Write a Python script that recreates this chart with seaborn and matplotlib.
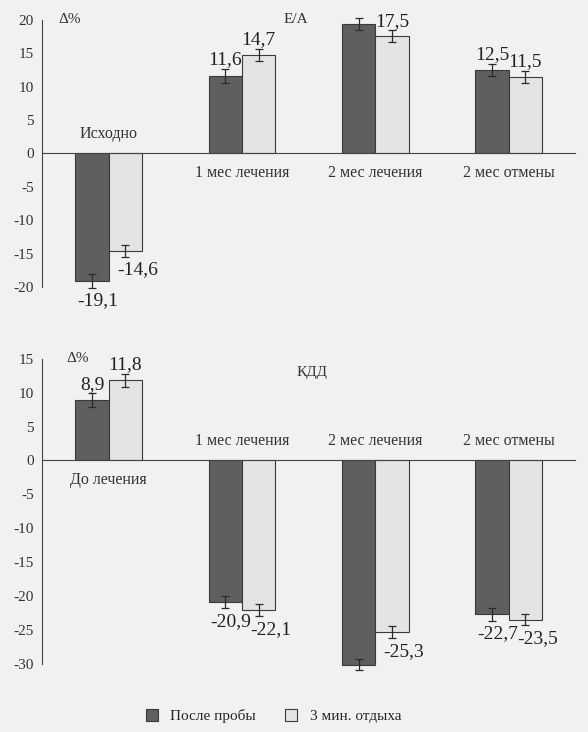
import numpy as np
import pandas as pd
import matplotlib
matplotlib.use('Agg')
import matplotlib.pyplot as plt
import seaborn as sns

# data
ea_cats = ['Исходно', '1 мес лечения', '2 мес лечения', '2 мес отмены']
ea_after = [-19.1, 11.6, 19.4, 12.5]
ea_rest = [-14.6, 14.7, 17.5, 11.5]
ea_err_after = [1.0, 1.0, 0.9, 0.9]
ea_err_rest = [0.9, 0.9, 0.9, 0.9]
ea_lab_after = ['-19,1', '11,6', None, '12,5']
ea_lab_rest = ['-14,6', '14,7', '17,5', '11,5']

kdd_cats = ['До лечения', '1 мес лечения', '2 мес лечения', '2 мес отмены']
kdd_after = [8.9, -20.9, -30.1, -22.7]
kdd_rest = [11.8, -22.1, -25.3, -23.5]
kdd_err_after = [1.0, 0.9, 0.8, 0.9]
kdd_err_rest = [1.0, 0.9, 0.9, 0.8]
kdd_lab_after = ['8,9', '-20,9', None, '-22,7']
kdd_lab_rest = ['11,8', '-22,1', '-25,3', '-23,5']

series = ['После пробы', '3 мин. отдыха']
colors = ['#5f5f5f', '#e4e4e2']

sns.set_style('white')
plt.rcParams['font.family'] = ['Liberation Serif', 'DejaVu Serif']
plt.rcParams['axes.unicode_minus'] = False
bg = '#f1f1ef'

fig = plt.figure(figsize=(5.88, 7.32), dpi=100, facecolor=bg)
ax1 = fig.add_axes([0.0714, 0.608, 0.907, 0.365], facecolor='none')
ax2 = fig.add_axes([0.0714, 0.093, 0.907, 0.417], facecolor='none')


def panel(ax, cats, after, rest, err_a, err_r, lab_a, lab_r, ylim, title, title_x, title_y, dy_x):
    df = pd.DataFrame({
        'cat': cats * 2,
        'val': after + rest,
        'ser': [series[0]] * len(cats) + [series[1]] * len(cats),
    })
    sns.barplot(data=df, x='cat', y='val', hue='ser', order=cats, hue_order=series,
                palette=colors, width=0.5, edgecolor='#3a3a3a', linewidth=0.8,
                saturation=1, ax=ax)
    ax.get_legend().remove()
    bar_conts = list(ax.containers)
    errs = [err_a, err_r]
    labs = [lab_a, lab_r]
    vals = [after, rest]
    for k, cont in enumerate(bar_conts):
        for i, bar in enumerate(cont):
            bar.set_clip_on(False)
            x = bar.get_x() + bar.get_width() / 2
            v = vals[k][i]
            e = errs[k][i]
            eb = ax.errorbar(x, v, yerr=e, fmt='none', ecolor='#2a2a2a', elinewidth=0.9,
                             capsize=3, capthick=0.9)
            for art in eb.lines[1] + eb.lines[2]:
                art.set_clip_on(False)
            if labs[k][i] is None:
                continue
            if v >= 0:
                ax.text(x, v + e + 0.1, labs[k][i], ha='center', va='bottom',
                        fontsize=14, color='#222222')
            else:
                shift = 0.09 if k == 1 else 0.04
                ax.text(x + shift, v - e - 0.7, labs[k][i], ha='center', va='top',
                        fontsize=14, color='#222222')
    # category names on the opposite side of the bars
    for i, c in enumerate(cats):
        side = -1 if (after[i] + rest[i]) > 0 else 1
        ax.text(i, side * 2.9, c, ha='center', va='center', fontsize=11.5, color='#333333')
    ax.set_xlim(-0.5, 3.5)
    ax.set_ylim(*ylim)
    ax.set_yticks(np.arange(ylim[0], ylim[1] + 1, 5))
    ax.set_xticks([0.5, 1.5, 2.5, 3.5])
    ax.set_xticklabels([])
    ax.set_xlabel('')
    ax.set_ylabel('')
    for s in ['top', 'right']:
        ax.spines[s].set_visible(False)
    ax.spines['bottom'].set_position(('data', 0))
    ax.spines['bottom'].set_color('#444444')
    ax.spines['left'].set_color('#444444')
    ax.tick_params(axis='y', direction='out', length=4, labelsize=11,
                   colors='#444444', labelcolor='#333333', pad=2)
    ax.tick_params(axis='x', direction='out', length=4, colors='#444444')
    ax.text(dy_x, 1.0, 'Δ%', transform=ax.transAxes, ha='left', va='center',
            fontsize=11, color='#333333')
    ax.text(title_x, title_y, title, transform=ax.transAxes, ha='left', va='center',
            fontsize=11, color='#333333')
    return bar_conts


panel(ax1, ea_cats, ea_after, ea_rest, ea_err_after, ea_err_rest,
      ea_lab_after, ea_lab_rest, (-20, 20), 'E/A', 0.452, 1.0, 0.03)
conts = panel(ax2, kdd_cats, kdd_after, kdd_rest, kdd_err_after, kdd_err_rest,
              kdd_lab_after, kdd_lab_rest, (-30, 15), 'КДД', 0.478, 0.955, 0.045)

handles = [conts[0][0], conts[1][0]]
fig.legend(handles, series, loc='center', bbox_to_anchor=(0.465, 0.022), ncol=2,
           frameon=False, fontsize=11, handlelength=0.8, handleheight=0.8,
           columnspacing=1.9, handletextpad=0.8)

fig.savefig('out.png', dpi=100, facecolor=bg)
